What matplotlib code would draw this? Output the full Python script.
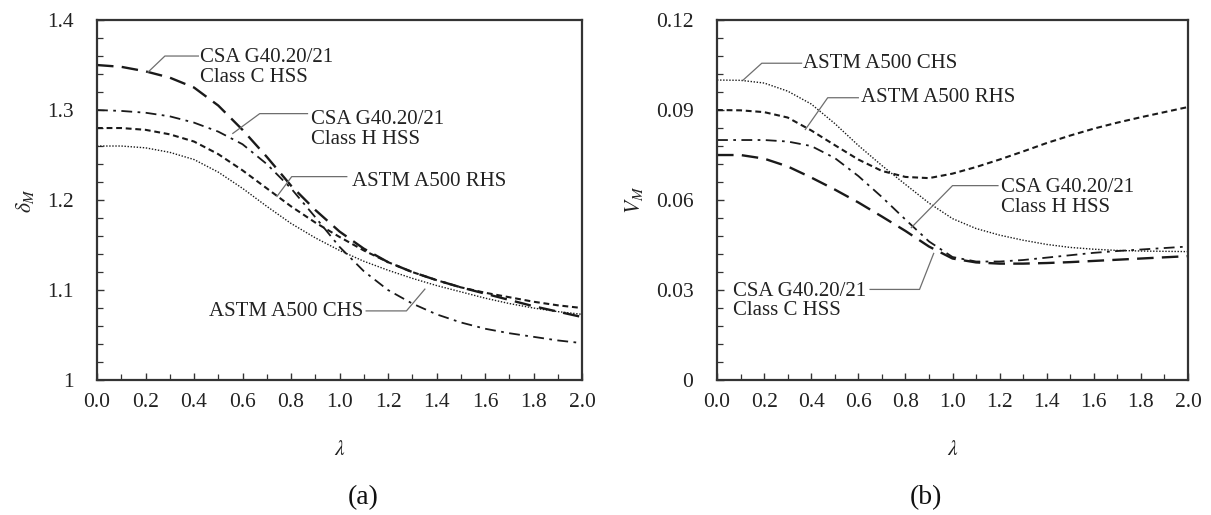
import matplotlib
matplotlib.use("Agg")
import matplotlib.pyplot as plt
from matplotlib.ticker import MultipleLocator, FormatStrFormatter, FixedLocator

plt.rcParams['font.family'] = ['Liberation Serif', 'DejaVu Serif']
plt.rcParams['mathtext.fontset'] = 'stix'

# slenderness values
lam = [0.0, 0.1, 0.2, 0.3, 0.4, 0.5, 0.6, 0.7, 0.8, 0.9, 1.0,
       1.1, 1.2, 1.3, 1.4, 1.5, 1.6, 1.7, 1.8, 1.9, 2.0]

# (a) bias coefficient delta_M
dm_class_c = [1.350, 1.348, 1.343, 1.336, 1.325, 1.305, 1.278, 1.248, 1.216, 1.189, 1.165,
              1.146, 1.131, 1.120, 1.111, 1.103, 1.096, 1.089, 1.082, 1.076, 1.070]
dm_class_h = [1.300, 1.299, 1.297, 1.293, 1.286, 1.276, 1.262, 1.240, 1.213, 1.181, 1.148,
              1.121, 1.100, 1.085, 1.073, 1.064, 1.057, 1.052, 1.048, 1.044, 1.041]
dm_rhs = [1.280, 1.280, 1.278, 1.273, 1.265, 1.251, 1.233, 1.213, 1.193, 1.175, 1.159,
          1.144, 1.131, 1.120, 1.111, 1.103, 1.097, 1.092, 1.087, 1.083, 1.080]
dm_chs = [1.260, 1.260, 1.258, 1.253, 1.245, 1.231, 1.213, 1.193, 1.174, 1.158, 1.144,
          1.132, 1.122, 1.113, 1.105, 1.098, 1.091, 1.085, 1.080, 1.076, 1.073]

# (b) coefficient of variation V_M
vm_chs = [0.1000, 0.0999, 0.0990, 0.0963, 0.0920, 0.0855, 0.0782, 0.0715, 0.0652, 0.0590, 0.0538,
          0.0505, 0.0483, 0.0466, 0.0452, 0.0442, 0.0436, 0.0432, 0.0430, 0.0429, 0.0428]
vm_rhs = [0.0900, 0.0899, 0.0893, 0.0875, 0.0832, 0.0783, 0.0735, 0.0697, 0.0677, 0.0673, 0.0688,
          0.0710, 0.0735, 0.0762, 0.0790, 0.0815, 0.0838, 0.0858, 0.0876, 0.0893, 0.0910]
vm_class_h = [0.0800, 0.0800, 0.0800, 0.0795, 0.0780, 0.0740, 0.0680, 0.0610, 0.0535, 0.0462, 0.0410,
              0.0395, 0.0395, 0.0400, 0.0408, 0.0416, 0.0424, 0.0430, 0.0435, 0.0440, 0.0445]
vm_class_c = [0.0750, 0.0750, 0.0738, 0.0712, 0.0675, 0.0635, 0.0592, 0.0545, 0.0497, 0.0445, 0.0405,
              0.0392, 0.0388, 0.0388, 0.0390, 0.0393, 0.0397, 0.0401, 0.0405, 0.0409, 0.0413]

x_ticks = [0.0, 0.2, 0.4, 0.6, 0.8, 1.0, 1.2, 1.4, 1.6, 1.8, 2.0]
dm_ticks = [1.0, 1.1, 1.2, 1.3, 1.4]
dm_tick_labels = ['1', '1.1', '1.2', '1.3', '1.4']
vm_ticks = [0.0, 0.03, 0.06, 0.09, 0.12]
vm_tick_labels = ['0', '0.03', '0.06', '0.09', '0.12']

LABEL_C = 'CSA G40.20/21\nClass C HSS'
LABEL_H = 'CSA G40.20/21\nClass H HSS'
LABEL_RHS = 'ASTM A500 RHS'
LABEL_CHS = 'ASTM A500 CHS'

ink = '#1a1a1a'
leader = '#6e6e6e'
styles = {
    'C':   dict(color=ink, lw=1.7, dashes=(7, 3.5)),
    'H':   dict(color=ink, lw=1.3, dashes=(6, 3, 1.5, 3)),
    'RHS': dict(color=ink, lw=1.5, dashes=(2.8, 1.8)),
    'CHS': dict(color=ink, lw=1.0, dashes=(1.0, 1.2)),
}

fig = plt.figure(figsize=(12.11, 5.15), dpi=100)
ax1 = fig.add_axes([0.0801, 0.2621, 0.4005, 0.6990])
ax2 = fig.add_axes([0.5921, 0.2621, 0.3889, 0.6990])

FS = 15.5
ANN = 15


def style_axes(ax, yticks, ylabels, yminor, ylabel):
    ax.set_xlim(0, 2.0)
    ax.xaxis.set_major_locator(FixedLocator(x_ticks))
    ax.xaxis.set_minor_locator(MultipleLocator(0.1))
    ax.xaxis.set_major_formatter(FormatStrFormatter('%.1f'))
    ax.set_yticks(yticks)
    ax.set_yticklabels(ylabels)
    ax.yaxis.set_minor_locator(MultipleLocator(yminor))
    ax.tick_params(which='both', direction='in', top=False, right=False,
                   colors='#333333', labelcolor='#222222', labelsize=FS)
    ax.tick_params(axis='x', which='major', length=5, width=1.0, pad=9)
    ax.tick_params(axis='x', which='minor', length=4, width=0.9)
    ax.tick_params(axis='y', which='major', length=5, width=1.0, pad=17)
    ax.tick_params(axis='y', which='minor', length=4, width=0.9)
    for s in ax.spines.values():
        s.set_linewidth(1.6)
        s.set_color('#333333')
    ax.set_xlabel(r'$\lambda$', fontsize=FS, labelpad=21, color='#222222')
    ax.set_ylabel(ylabel, fontsize=FS, labelpad=8, color='#222222')


# ---- (a) ----
ax1.plot(lam, dm_class_c, **styles['C'])
ax1.plot(lam, dm_class_h, **styles['H'])
ax1.plot(lam, dm_rhs, **styles['RHS'])
ax1.plot(lam, dm_chs, **styles['CHS'])
ax1.set_ylim(1.0, 1.4)
style_axes(ax1, dm_ticks, dm_tick_labels, 0.02, r'$\delta_M$')

ax1.plot([0.210, 0.280, 0.418], [1.342, 1.360, 1.360], color=leader, lw=0.9)
ax1.text(0.426, 1.347, LABEL_C, fontsize=ANN, va='center', ha='left', linespacing=1.05, color='#222222')
ax1.plot([0.560, 0.671, 0.868], [1.274, 1.296, 1.296], color=leader, lw=0.9)
ax1.text(0.884, 1.278, LABEL_H, fontsize=ANN, va='center', ha='left', linespacing=1.05, color='#222222')
ax1.plot([0.742, 0.803, 1.030], [1.204, 1.226, 1.226], color=leader, lw=0.9)
ax1.text(1.052, 1.221, LABEL_RHS, fontsize=ANN, va='center', ha='left', color='#222222')
ax1.plot([1.110, 1.276, 1.352], [1.0768, 1.0768, 1.101], color=leader, lw=0.9)
ax1.text(1.097, 1.0757, LABEL_CHS, fontsize=ANN, va='center', ha='right', color='#222222')

# ---- (b) ----
ax2.plot(lam, vm_chs, **styles['CHS'])
ax2.plot(lam, vm_rhs, **styles['RHS'])
ax2.plot(lam, vm_class_h, **styles['H'])
ax2.plot(lam, vm_class_c, **styles['C'])
ax2.set_ylim(0.0, 0.12)
style_axes(ax2, vm_ticks, vm_tick_labels, 0.006, r'$V_M$')

ax2.plot([0.111, 0.19, 0.359], [0.1000, 0.1056, 0.1056], color=leader, lw=0.9)
ax2.text(0.367, 0.1056, LABEL_CHS, fontsize=ANN, va='center', ha='left', color='#222222')
ax2.plot([0.375, 0.47, 0.600], [0.0835, 0.0941, 0.0941], color=leader, lw=0.9)
ax2.text(0.612, 0.0941, LABEL_RHS, fontsize=ANN, va='center', ha='left', color='#222222')
ax2.plot([0.825, 1.000, 1.193], [0.0508, 0.0648, 0.0648], color=leader, lw=0.9)
ax2.text(1.208, 0.0609, LABEL_H, fontsize=ANN, va='center', ha='left', linespacing=1.05, color='#222222')
ax2.plot([0.650, 0.860, 0.920], [0.0302, 0.0302, 0.0422], color=leader, lw=0.9)
ax2.text(0.066, 0.0263, LABEL_C, fontsize=ANN, va='center', ha='left', linespacing=1.05, color='#222222')

# panel captions
fig.text(363 / 1211, 1 - 498 / 515, '(a)', fontsize=20, ha='center', va='center', color='#111111')
fig.text(926 / 1211, 1 - 498 / 515, '(b)', fontsize=20, ha='center', va='center', color='#111111')

fig.savefig('out.png', dpi=100, facecolor='white')
